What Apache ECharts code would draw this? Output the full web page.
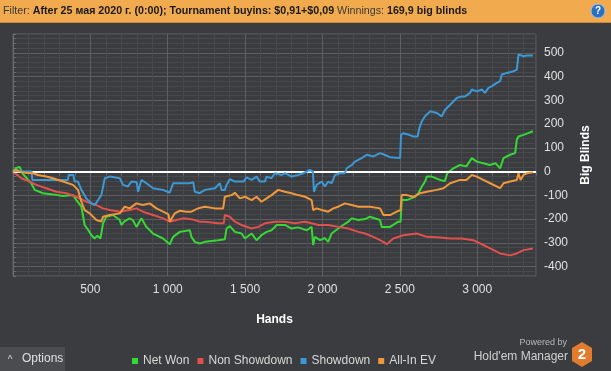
<!DOCTYPE html>
<html>
<head>
<meta charset="utf-8">
<script src="https://cdn.jsdelivr.net/npm/echarts@6/dist/echarts.min.js"></script>
<style>
html,body{margin:0;padding:0;background:#3a3c3f;}
#chart{width:611px;height:371px;}
</style>
</head>
<body>
<div id="chart"></div>
<script>
// ---- data: [hands, big blinds] ----
const seriesNames = ['Net Won', 'Non Showdown', 'Showdown', 'All-In EV'];
const netWon = [[0,0],[20,15],[43,20],[60,-7],[118,-49],[140,-77],[194,-91],[258,-96],[323,-103],[388,-99],[410,-120],[442,-148],[463,-225],[490,-250],[507,-268],[528,-282],[545,-270],[565,-282],[582,-218],[603,-190],[646,-183],[690,-204],[700,-225],[720,-210],[754,-197],[775,-205],[798,-233],[830,-197],[862,-233],[905,-261],[970,-282],[1013,-306],[1035,-275],[1078,-254],[1110,-250],[1143,-247],[1153,-275],[1175,-296],[1207,-303],[1240,-296],[1326,-289],[1369,-285],[1380,-240],[1401,-230],[1434,-254],[1477,-261],[1499,-282],[1542,-261],[1574,-289],[1606,-268],[1639,-254],[1671,-247],[1704,-225],[1757,-225],[1800,-240],[1843,-235],[1898,-247],[1930,-233],[1940,-310],[1951,-275],[1984,-289],[2016,-280],[2037,-296],[2059,-261],[2102,-240],[2134,-225],[2167,-211],[2189,-197],[2232,-204],[2275,-200],[2307,-190],[2372,-204],[2383,-233],[2437,-233],[2490,-211],[2505,-211],[2512,-120],[2545,-120],[2598,-106],[2620,-91],[2642,-63],[2663,-42],[2674,-21],[2706,-21],[2760,-35],[2790,-40],[2807,-7],[2846,14],[2889,28],[2930,22],[2965,57],[2997,42],[3040,35],[3080,28],[3120,35],[3148,14],[3170,57],[3213,71],[3245,78],[3256,134],[3267,148],[3299,155],[3360,170]];
const nonShowdown = [[0,0],[54,-28],[107,-42],[151,-56],[215,-70],[280,-85],[345,-91],[410,-106],[474,-127],[539,-141],[582,-155],[625,-162],[690,-169],[754,-162],[798,-155],[840,-169],[905,-183],[970,-197],[1013,-211],[1056,-204],[1099,-197],[1143,-200],[1175,-204],[1207,-211],[1240,-211],[1326,-218],[1362,-218],[1369,-183],[1401,-190],[1434,-211],[1477,-225],[1542,-240],[1585,-233],[1628,-218],[1693,-211],[1757,-211],[1822,-218],[1887,-211],[1930,-218],[1973,-225],[2037,-225],[2102,-233],[2167,-240],[2232,-254],[2275,-261],[2329,-275],[2372,-289],[2394,-296],[2415,-306],[2458,-282],[2523,-268],[2609,-261],[2674,-275],[2760,-278],[2825,-282],[2900,-282],[2975,-289],[3019,-303],[3084,-324],[3148,-345],[3213,-353],[3256,-345],[3299,-331],[3360,-324]];
const showdown = [[0,0],[30,5],[60,0],[120,0],[125,-35],[200,-35],[300,-35],[355,-35],[360,-14],[390,-14],[398,-42],[420,-42],[442,-77],[474,-113],[507,-134],[528,-141],[550,-120],[571,-99],[593,-28],[625,-21],[690,-28],[711,-56],[743,-63],[765,-42],[800,-45],[808,-85],[830,-35],[862,-49],[905,-70],[970,-77],[1013,-89],[1035,-49],[1143,-49],[1165,-45],[1175,-85],[1207,-91],[1240,-77],[1305,-70],[1337,-49],[1348,-77],[1369,-77],[1380,-56],[1401,-32],[1434,-42],[1490,-42],[1509,-24],[1542,-35],[1574,-21],[1596,-42],[1628,-42],[1639,-21],[1670,-28],[1693,-7],[1736,-14],[1760,-7],[1800,-21],[1843,-14],[1876,-7],[1919,7],[1938,0],[1945,-85],[1962,-56],[1995,-42],[2016,-63],[2037,-42],[2060,-49],[2081,-14],[2113,-7],[2145,-7],[2156,14],[2189,28],[2210,42],[2253,57],[2286,71],[2329,64],[2372,78],[2400,71],[2437,61],[2502,57],[2508,155],[2523,162],[2560,155],[2588,148],[2615,148],[2626,183],[2642,212],[2663,233],[2696,254],[2739,247],[2771,233],[2793,261],[2825,282],[2868,310],[2900,317],[2922,317],[2954,332],[2965,346],[2997,338],[3030,346],[3050,332],[3073,353],[3095,360],[3127,374],[3148,381],[3159,409],[3192,416],[3235,423],[3256,430],[3267,494],[3278,498],[3299,486],[3320,489],[3360,489]];
const allInEV = [[0,0],[20,7],[40,0],[80,-5],[129,-7],[161,-14],[215,-21],[258,-28],[323,-42],[388,-56],[420,-77],[442,-127],[463,-162],[496,-176],[539,-204],[571,-211],[582,-190],[625,-183],[690,-176],[722,-148],[754,-155],[798,-134],[840,-141],[884,-134],[927,-155],[970,-169],[1005,-180],[1013,-211],[1045,-176],[1078,-165],[1121,-169],[1153,-169],[1196,-155],[1240,-148],[1305,-155],[1358,-155],[1369,-106],[1412,-99],[1434,-89],[1466,-113],[1500,-106],[1542,-120],[1574,-106],[1606,-127],[1639,-113],[1671,-99],[1714,-77],[1757,-85],[1800,-91],[1843,-99],[1887,-106],[1930,-120],[1940,-162],[1962,-155],[1995,-162],[2037,-169],[2070,-155],[2102,-148],[2145,-134],[2189,-141],[2232,-148],[2307,-148],[2372,-155],[2394,-183],[2437,-183],[2480,-169],[2505,-162],[2512,-99],[2545,-99],[2588,-106],[2631,-91],[2674,-85],[2739,-77],[2782,-70],[2825,-49],[2889,-35],[2930,-35],[2965,-14],[2997,-21],[3040,-35],[3084,-49],[3148,-70],[3170,-49],[3213,-42],[3256,-35],[3267,-7],[3280,-35],[3299,-14],[3321,-7],[3360,-3]];
const seriesColors = ['#35d835', '#e0504d', '#3d98d6', '#f0983a'];
const xLabelStep = 500;   // hands between labelled ticks
const yLabelStep = 100;   // big blinds between labelled ticks

const FONT = '"Liberation Sans", Arial, sans-serif';
const chart = echarts.init(document.getElementById('chart'), null, {renderer: 'canvas'});

function fmtHands(v) {
  if (v <= 0 || v % xLabelStep !== 0) return '';
  if (v >= 1000) {
    const r = v % 1000;
    return Math.floor(v / 1000) + ' ' + String(r).padStart(3, '0');
  }
  return String(v);
}

const major = '#5d5f63', minor = '#47494d';
const dataSets = [netWon, nonShowdown, showdown, allInEV];

const series = dataSets.map((d, i) => ({
  name: seriesNames[i],
  type: 'line',
  data: d,
  showSymbol: false,
  symbol: 'none',
  z: 3 + i,
  lineStyle: {width: 2, color: seriesColors[i]},
  itemStyle: {color: seriesColors[i]},
  animation: false
}));
series[0].markLine = {
  silent: true, symbol: 'none', label: {show: false},
  lineStyle: {color: '#ffffff', width: 2, type: 'solid'},
  data: [{yAxis: 0}],
  animation: false
};

chart.setOption({
  backgroundColor: '#3a3c3f',
  animation: false,
  textStyle: {fontFamily: FONT},
  grid: {left: 13, right: 75, top: 34, bottom: 95, show: true, borderColor: '#606266', borderWidth: 1, containLabel: false},
  legend: {
    left: 127, top: 350,
    icon: 'rect', itemWidth: 6, itemHeight: 6, itemGap: 8,
    textStyle: {color: '#d8d8d8', fontSize: 12, fontFamily: FONT},
    data: seriesNames,
    selectedMode: false
  },
  xAxis: {
    type: 'value', min: 0, max: 3380, interval: 100,
    name: 'Hands', nameLocation: 'middle', nameGap: 38,
    nameTextStyle: {color: '#ffffff', fontWeight: 'bold', fontSize: 12, fontFamily: FONT},
    axisLine: {show: true, lineStyle: {color: '#6a6c70'}},
    axisTick: {show: true, length: 4, lineStyle: {color: '#6a6c70'}},
    axisLabel: {color: '#e0e0e0', fontSize: 12, margin: 8, formatter: fmtHands, showMinLabel: true, showMaxLabel: true},
    splitLine: {show: true, lineStyle: {color: [major, minor, minor, minor, minor], width: 1}}
  },
  yAxis: {
    type: 'value', position: 'right', min: -440, max: 580, interval: 20,
    name: 'Big Blinds', nameLocation: 'middle', nameGap: 44, nameRotate: 90,
    nameTextStyle: {color: '#ffffff', fontWeight: 'bold', fontSize: 12, fontFamily: FONT},
    axisLine: {show: true, lineStyle: {color: '#6a6c70'}},
    axisTick: {show: true, length: 3, lineStyle: {color: '#6a6c70'}},
    axisLabel: {color: '#e0e0e0', fontSize: 12, margin: 8, formatter: v => (v % yLabelStep === 0 ? String(v) : '')},
    splitLine: {show: true, lineStyle: {color: [minor, minor, major, minor, minor], width: 1}}
  },
  series: series,
  graphic: [
    {type: 'rect', shape: {x: 0, y: 0, width: 611, height: 22}, style: {fill: '#f1aa4d'}, z: 100},
    {type: 'rect', shape: {x: 0, y: 22, width: 611, height: 1}, style: {fill: '#c98a3a'}, z: 100},
    {type: 'text', x: 3, y: 11, z: 101, style: {
      text: '{n|Filter: }{b|After 25 мая 2020 г. (0:00); Tournament buyins: $0,91+$0,09 }{n|Winnings: }{b|169,9 big blinds}',
      verticalAlign: 'middle',
      rich: {
        n: {fontSize: 10.7, fontFamily: FONT, fill: '#3a3a3a'},
        b: {fontSize: 10.7, fontFamily: FONT, fontWeight: 'bold', fill: '#1a1a1a'}
      }
    }},
    {type: 'circle', shape: {cx: 598, cy: 11, r: 7}, style: {fill: '#2b70c0', stroke: '#9cc3ee', lineWidth: 1}, z: 101},
    {type: 'text', x: 598, y: 11, z: 102, style: {text: '?', fontSize: 10, fontWeight: 'bold', fontFamily: FONT, fill: '#ffffff', align: 'center', verticalAlign: 'middle'}},
    {type: 'rect', shape: {x: 0, y: 347, width: 65, height: 24}, style: {fill: '#4a4c50'}, z: 100},
    {type: 'text', x: 10, y: 360, z: 101, style: {text: '^', fontSize: 10, fontFamily: FONT, fill: '#d8d8d8', align: 'center', verticalAlign: 'middle'}},
    {type: 'text', x: 22, y: 359, z: 101, style: {text: 'Options', fontSize: 12, fontFamily: FONT, fill: '#e0e0e0', verticalAlign: 'middle'}},
    {type: 'text', x: 567, y: 343, z: 101, style: {text: 'Powered by', fontSize: 9, fontFamily: FONT, fill: '#b8b8b8', align: 'right', verticalAlign: 'middle'}},
    {type: 'text', x: 568, y: 357, z: 101, style: {text: "Hold'em Manager", fontSize: 12, fontFamily: FONT, fill: '#d0d0d0', align: 'right', verticalAlign: 'middle'}},
    {type: 'polygon', shape: {points: [[582,342],[592,348],[592,361],[582,367],[572,361],[572,348]]}, style: {fill: '#e27b2c'}, z: 101},
    {type: 'text', x: 582, y: 355, z: 102, style: {text: '2', fontSize: 15, fontWeight: 'bold', fontFamily: FONT, fill: '#ffffff', align: 'center', verticalAlign: 'middle'}}
  ]
});
</script>
</body>
</html>
